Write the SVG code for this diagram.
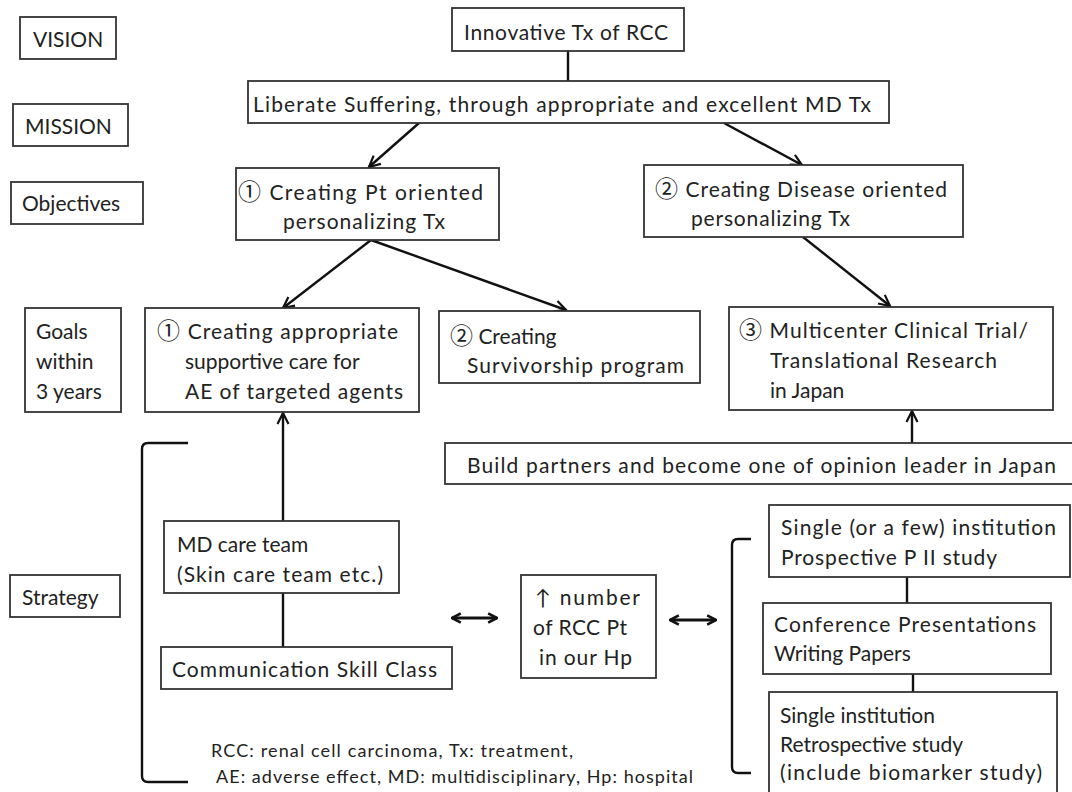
<svg xmlns="http://www.w3.org/2000/svg" width="1072" height="792" viewBox="0 0 1072 792">
<defs>
<style>
.box{fill:#fff;stroke:#333;stroke-width:1.8}
.t{font-family:Lato,"Noto Sans CJK JP","DejaVu Sans",sans-serif;font-size:21px;fill:#222}
.n{font-family:"Noto Sans CJK JP","DejaVu Sans",sans-serif;font-size:23px}
.s{font-family:Lato,"DejaVu Sans",sans-serif;font-size:18px;fill:#222}
.c{fill:none;stroke:#111;stroke-width:2.4}
.d{fill:none;stroke:#111;stroke-width:3}
</style>
<marker id="arr" viewBox="0 0 14 14" refX="12.5" refY="7" markerWidth="14" markerHeight="14" markerUnits="userSpaceOnUse" orient="auto-start-reverse">
<path d="M1.5,1.5 L12.5,7 L1.5,12.5" fill="none" stroke="#111" stroke-width="2.2"/>
</marker>
<marker id="dbl" viewBox="0 0 14 14" refX="12.5" refY="7" markerWidth="13" markerHeight="13" markerUnits="userSpaceOnUse" orient="auto-start-reverse">
<path d="M3,2 L12.5,7 L3,12" fill="none" stroke="#111" stroke-width="2.8"/>
</marker>
</defs>
<rect width="1072" height="792" fill="#fff"/>

<g id="connectors">
<path class="c" d="M568,51 L568,81"/>
<path class="c" d="M419,123 L369,167" marker-end="url(#arr)"/>
<path class="c" d="M724,123 L802,165" marker-end="url(#arr)"/>
<path class="c" d="M371,240 L283,308" marker-end="url(#arr)"/>
<path class="c" d="M371,240 L566,310" marker-end="url(#arr)"/>
<path class="c" d="M803,237 L890,306" marker-end="url(#arr)"/>
<path class="c" d="M912,443 L912,411" marker-end="url(#arr)"/>
<path class="c" d="M283,521 L283,413" marker-end="url(#arr)"/>
<path class="c" d="M283,593 L283,647"/>
<path class="c" d="M907,577 L907,603"/>
<path class="c" d="M913,674 L913,692"/>
<path class="d" d="M452,618 L497,618" marker-start="url(#dbl)" marker-end="url(#dbl)"/>
<path class="d" d="M670,620 L716,620" marker-start="url(#dbl)" marker-end="url(#dbl)"/>
<path class="c" d="M188,443 L148,443 Q142,443 142,449 L142,776 Q142,782 148,782 L188,782"/>
<path class="c" d="M751,539 L738,539 Q732,539 732,545 L732,767 Q732,773 738,773 L751,773"/>
</g>

<g id="vision-label"><rect class="box" x="20" y="17" width="96" height="42"/><text class="t" x="33" y="47">VISION</text></g>
<g id="mission-label"><rect class="box" x="13" y="104" width="115" height="42"/><text class="t" x="25" y="134">MISSION</text></g>
<g id="objectives-label"><rect class="box" x="11" y="182" width="132" height="42"/><text class="t" x="22" y="211">Objectives</text></g>
<g id="goals-label"><rect class="box" x="25" y="308" width="96" height="104"/>
<text class="t" x="36" y="339">Goals</text><text class="t" x="36" y="369">within</text><text class="t" x="36" y="399">3 years</text></g>
<g id="strategy-label"><rect class="box" x="10" y="575" width="110" height="42"/><text class="t" x="22" y="605">Strategy</text></g>

<g id="vision"><rect class="box" x="452" y="8" width="232" height="43"/><text class="t" x="464" y="40" textLength="204">Innovative Tx of RCC</text></g>
<g id="mission"><rect class="box" x="248" y="81" width="641" height="42"/><text class="t" x="253" y="112" textLength="618">Liberate Suffering, through appropriate and excellent MD Tx</text></g>

<g id="objective1"><rect class="box" x="236" y="168" width="263" height="72"/>
<text class="t" x="238" y="200" textLength="245"><tspan class="n">①</tspan> Creating Pt oriented</text>
<text class="t" x="283" y="229" textLength="162">personalizing Tx</text></g>
<g id="objective2"><rect class="box" x="644" y="165" width="319" height="72"/>
<text class="t" x="655" y="197" textLength="292"><tspan class="n">②</tspan> Creating Disease oriented</text>
<text class="t" x="691" y="226" textLength="159">personalizing Tx</text></g>

<g id="goal1"><rect class="box" x="145" y="308" width="274" height="104"/>
<text class="t" x="157" y="339" textLength="241"><tspan class="n">①</tspan> Creating appropriate</text>
<text class="t" x="185" y="369">supportive care for</text>
<text class="t" x="185" y="399" textLength="218">AE of targeted agents</text></g>
<g id="goal2"><rect class="box" x="439" y="311" width="261" height="72"/>
<text class="t" x="450" y="344"><tspan class="n">②</tspan> Creating</text>
<text class="t" x="467" y="373" textLength="217">Survivorship program</text></g>
<g id="goal3"><rect class="box" x="729" y="307" width="324" height="103"/>
<text class="t" x="739" y="338" textLength="289"><tspan class="n">③</tspan> Multicenter Clinical Trial/</text>
<text class="t" x="770" y="368" textLength="227">Translational Research</text>
<text class="t" x="770" y="398">in Japan</text></g>

<g id="build-partners"><rect class="box" x="445" y="443" width="640" height="41"/>
<text class="t" x="467" y="473" textLength="589">Build partners and become one of opinion leader in Japan</text></g>

<g id="md-care-team"><rect class="box" x="164" y="521" width="235" height="72"/>
<text class="t" x="177" y="552">MD care team</text>
<text class="t" x="177" y="582" textLength="206">(Skin care team etc.)</text></g>
<g id="communication"><rect class="box" x="161" y="647" width="291" height="42"/>
<text class="t" x="172" y="677" textLength="265">Communication Skill Class</text></g>

<g id="rcc-number"><rect class="box" x="521" y="575" width="135" height="103"/>
<text class="t" x="535" y="605" textLength="105">↑ number</text>
<text class="t" x="533" y="635" textLength="94">of RCC Pt</text>
<text class="t" x="539" y="665" textLength="93">in our Hp</text></g>

<g id="prospective"><rect class="box" x="769" y="505" width="301" height="72"/>
<text class="t" x="781" y="535" textLength="275">Single (or a few) institution</text>
<text class="t" x="781" y="565" textLength="216">Prospective P II study</text></g>
<g id="conference"><rect class="box" x="763" y="603" width="288" height="71"/>
<text class="t" x="774" y="632" textLength="262">Conference Presentations</text>
<text class="t" x="774" y="661">Writing Papers</text></g>
<g id="retrospective"><rect class="box" x="769" y="692" width="288" height="110"/>
<text class="t" x="780" y="723">Single institution</text>
<text class="t" x="780" y="752">Retrospective study</text>
<text class="t" x="780" y="780" textLength="262">(include biomarker study)</text></g>

<g id="footnote">
<text class="s" x="211" y="757" textLength="362">RCC: renal cell carcinoma, Tx: treatment,</text>
<text class="s" x="216" y="783" textLength="477">AE: adverse effect, MD: multidisciplinary, Hp: hospital</text>
</g>
</svg>
